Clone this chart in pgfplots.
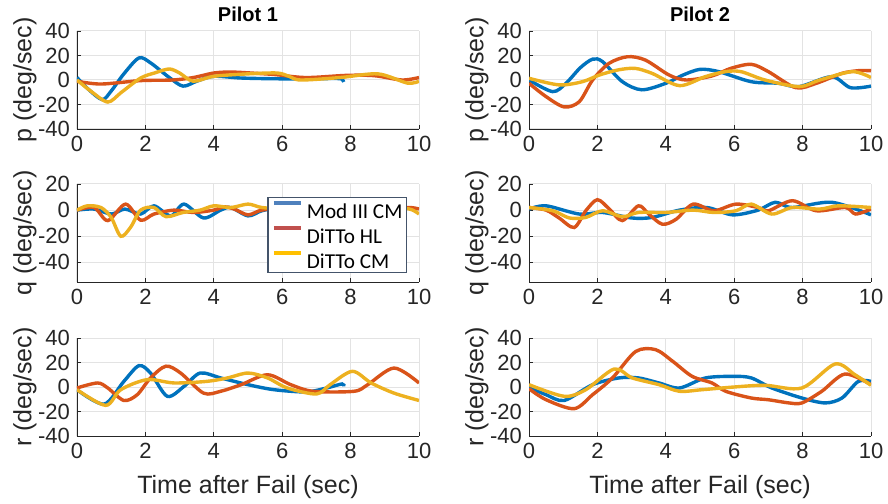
\documentclass[border=0pt]{standalone}
\usepackage{fontspec}
\setmainfont{Liberation Sans}
\newfontfamily\legfont{Carlito}
\usepackage{pgfplots}
\pgfplotsset{compat=1.18}

\definecolor{mblue}{rgb}{0,0.447,0.741}
\definecolor{mred}{rgb}{0.85,0.325,0.098}
\definecolor{myel}{rgb}{0.929,0.694,0.125}
\definecolor{lblue}{HTML}{4F81BD}
\definecolor{lred}{HTML}{C0504D}
\definecolor{lyel}{HTML}{FFC000}
\definecolor{axgray}{HTML}{262626}
\definecolor{gridgray}{HTML}{E3E3E3}
\definecolor{legbox}{HTML}{44546A}

% one MATLAB-like panel, 1px of the original = 0.5pt
\pgfplotsset{
  panel/.style={
    scale only axis, width=171pt, height=49pt,
    xmin=0, xmax=10, xtick={0,2,4,6,8,10},
    axis x line*=bottom, axis y line*=left,
    axis line style={axgray, line width=0.4pt, -},
    tick align=inside, major tick length=2pt,
    tick style={axgray, line width=0.4pt},
    grid=major, major grid style={gridgray, line width=0.5pt},
    ticklabel style={font=\fontsize{11}{13}\selectfont, text=axgray},
    /pgf/number format/assume math mode=true,
    label style={font=\fontsize{12.5}{15}\selectfont, text=axgray},
    ylabel style={at={(axis description cs:-0.152,0.5)}, anchor=center},
    xlabel style={at={(axis description cs:0.5,0)}, anchor=base, yshift=-28.5pt},
    every axis title/.style={at={(axis description cs:0.5,1)}, anchor=base,
                 yshift=4.5pt, inner sep=0pt,
                 font=\bfseries\fontsize{10}{12}\selectfont},
    every axis plot/.append style={line width=1.7pt, smooth, forget plot},
  },
  pq/.style={ymin=-40, ymax=40, ytick={-40,-20,0,20,40}},
  qq/.style={ymin=-55, ymax=20, ytick={-40,-20,0,20}},
}

\begin{document}
\begin{tikzpicture}
\useasboundingbox (0,0) rectangle (444pt,251.5pt);

% ---------- Pilot 1, p ----------
\begin{axis}[panel, pq, at={(38.5pt,187pt)}, anchor=south west,
  title={Pilot 1}, ylabel={p (deg/sec)}]
\addplot[mblue] coordinates {(0,2)(0.35,-8)(0.74,-16)(1.0,-9)(1.37,5)(1.81,18)(2.15,14)(2.7,2)(3.1,-5)(3.5,-1)(4,3)(4.8,1.6)(5.8,1)(6.7,1)(7.6,1.2)(7.75,0.5)(7.8,-1.6)};
\addplot[mred] coordinates {(0,-1)(0.7,-3.3)(1.86,-0.5)(2.8,0)(3.4,2)(4,5.7)(4.5,6.5)(5.2,5.5)(5.8,4.4)(6.7,2)(7.9,3.8)(8.7,3.5)(9.5,0)(10,2)};
\addplot[myel] coordinates {(0,0)(0.4,-9)(0.9,-18)(1.3,-10)(1.86,1.6)(2.3,6)(2.7,9)(3.0,5.7)(3.4,-1)(4,3)(5,5)(5.85,5.7)(6.2,3)(6.54,0)(7.7,2)(8.8,5)(9.66,-2.5)(10,-1)};
\end{axis}

% ---------- Pilot 2, p ----------
\begin{axis}[panel, pq, at={(264.5pt,187pt)}, anchor=south west,
  title={Pilot 2}, ylabel={p (deg/sec)}]
\addplot[mblue] coordinates {(0,0)(0.69,-9.5)(1.08,-2.7)(1.5,10)(1.86,17)(2.15,15)(2.73,-1.4)(3.3,-8)(4,-2.7)(4.5,4)(5,8.7)(5.55,6.8)(6.5,-1.4)(7.3,-2.7)(7.9,-5.4)(8.85,2.7)(9.4,-6.3)(10,-5)};
\addplot[mred] coordinates {(0,-2.7)(0.5,-13.6)(1.03,-22)(1.47,-17.7)(1.86,0)(2.34,13.6)(2.88,19)(3.4,16.3)(4.1,4)(4.6,0)(5.35,3.3)(5.9,9.5)(6.5,12.8)(7.0,6.8)(7.8,-6.3)(8.4,-2.7)(9.15,5.4)(9.63,7.6)(10,7.6)};
\addplot[myel] coordinates {(0,1.4)(0.88,-4)(1.56,-1.4)(2.05,4)(2.6,8.2)(3.1,9.5)(3.6,5.4)(4.4,-4.6)(5.15,2.7)(5.74,6.8)(6.2,6.8)(6.9,0)(7.9,-5.4)(8.5,0)(9.45,6.8)(10,2)};
\end{axis}

% ---------- Pilot 1, q ----------
\begin{axis}[panel, qq, at={(38.5pt,110.5pt)}, anchor=south west,
  ylabel={q (deg/sec)},
  legend style={at={(rel axis cs:0.965,0.867)}, anchor=north east,
    draw=legbox, line width=0.6pt, fill=white, text=black,
    font=\legfont\fontsize{10.6}{12}\selectfont,
    nodes={inner sep=0pt, text height=10.5pt, text depth=2pt},
    inner xsep=2pt, inner ysep=0pt, row sep=0pt, column sep=2pt},
  legend cell align=left,
  legend image code/.code={\draw[#1] (0pt,3.4pt) -- (13.5pt,3.4pt);}]
\addplot[mblue] coordinates {(0,0)(0.5,0.8)(1.0,-3)(1.4,0.8)(1.86,-3)(2.25,3.3)(2.74,-4.4)(3.13,4.6)(3.7,-6)(4.2,0)(4.5,2)(5,-4.4)(5.4,-0.5)(5.8,1)(6.5,-1)(7.2,1)(7.8,0)};
\addplot[mred] coordinates {(0,0)(0.5,2)(0.9,-8)(1.42,4.6)(1.86,-7.7)(2.25,-3)(2.84,0)(3.4,-1.8)(4.0,0)(4.3,2.5)(4.6,0.8)(5,-3.6)(5.4,0)(6,1)(7,-1)(8,1)(9,0)(9.7,2)(10,0.8)};
\addplot[myel] coordinates {(0,0)(0.3,3.3)(0.7,2)(1.0,-5.6)(1.28,-20)(1.57,-13)(1.86,0)(2.25,2)(2.6,-5)(3.1,-1.8)(3.6,0)(4.0,3.3)(4.5,2)(5,4.6)(5.4,2)(6,1)(7,0)(8,1)(9,1)(9.7,1)(10,-3)};
\addlegendimage{lblue, line width=2pt}
\addlegendentry{Mod III CM}
\addlegendimage{lred, line width=2pt}
\addlegendentry{DiTTo HL}
\addlegendimage{lyel, line width=2pt}
\addlegendentry{DiTTo CM}
\end{axis}

% ---------- Pilot 2, q ----------
\begin{axis}[panel, qq, at={(264.5pt,110.5pt)}, anchor=south west,
  ylabel={q (deg/sec)}]
\addplot[mblue] coordinates {(0,0.8)(0.5,3.3)(1.47,-3)(2.15,-1.8)(3.0,-6)(3.6,-5.6)(4.4,0)(5.2,2)(5.95,-3.6)(6.7,0)(7.2,6)(7.7,2)(8.85,6)(10,-3.6)};
\addplot[mred] coordinates {(0,2)(0.5,0)(0.88,-6)(1.32,-13.3)(1.66,-0.5)(2.0,8)(2.35,0.8)(2.73,-8)(3.2,3.3)(3.5,-3)(3.9,-10.8)(4.3,-7)(4.8,4.6)(5.4,-0.5)(6.05,4.6)(6.7,2)(7.0,-0.5)(7.7,7.2)(8.4,-0.5)(9.25,2)(9.55,-3)(10,0.8)};
\addplot[myel] coordinates {(0,2)(0.7,-0.5)(1.18,-6)(1.66,-5.6)(2.15,-0.5)(2.73,-5)(3.2,-1.8)(4.0,-1.8)(4.8,0)(5.4,-1.8)(6.05,-0.5)(6.5,4.6)(7.1,-3)(7.7,2)(8.5,0.8)(9.05,3.3)(10,2)};
\end{axis}

% ---------- Pilot 1, r ----------
\begin{axis}[panel, pq, at={(38.5pt,33.5pt)}, anchor=south west,
  ylabel={r (deg/sec)}, xlabel={Time after Fail (sec)}]
\addplot[mblue] coordinates {(0,-2.2)(0.79,-14)(1.37,4.6)(1.81,17.4)(2.15,11.4)(2.64,-7.6)(3.13,0.5)(3.6,11.4)(4.2,7.4)(5,1.9)(5.76,-2.2)(6.7,-4)(7.3,-0.8)(7.75,2.5)(7.8,0.5)};
\addplot[mred] coordinates {(0,-0.8)(0.6,3.3)(0.9,-0.8)(1.37,-11)(1.76,-6.3)(2.15,7.4)(2.6,17)(3.03,11.4)(3.7,-5)(4.2,-3.5)(4.8,1.9)(5.57,10)(6.25,1.9)(6.9,-3.5)(8.1,-3.5)(8.5,1.9)(9.27,15.5)(10,3.3)};
\addplot[myel] coordinates {(0,-2.2)(0.84,-15)(1.28,-2.2)(2.05,6)(2.84,3.3)(3.8,4.6)(4.4,7.4)(5.0,11.4)(5.57,7.4)(6.15,-0.8)(7.0,-5.7)(7.4,1.9)(8.05,12.8)(8.6,3.3)(9.27,-5)(10,-11)};
\end{axis}

% ---------- Pilot 2, r ----------
\begin{axis}[panel, pq, at={(264.5pt,33.5pt)}, anchor=south west,
  ylabel={r (deg/sec)}, xlabel={Time after Fail (sec)}]
\addplot[mblue] coordinates {(0,-0.3)(0.5,-6.3)(1.03,-11)(1.86,1.9)(2.63,7.4)(3.2,7.4)(3.8,3.3)(4.4,-0.8)(5.16,7.4)(6.0,8.7)(6.5,7.4)(7.1,-0.8)(7.98,-9)(8.66,-13)(9.15,-9)(9.63,4.6)(10,4.6)};
\addplot[mred] coordinates {(0,-1.4)(0.5,-10.4)(1.32,-17.7)(1.86,-6.3)(2.44,7.4)(3.12,29)(3.7,30.5)(4.2,21)(4.77,8.7)(5.35,3.3)(5.75,-3.5)(6.5,-9)(7.0,-10.4)(7.6,-13)(7.98,-13)(8.56,-3.5)(9.24,10.6)(10,1.9)};
\addplot[myel] coordinates {(0,1.9)(1.03,-7.6)(1.66,-2.2)(2.49,14.7)(3.02,7.4)(3.8,1.9)(4.4,-3.5)(5.06,-2.2)(6.0,0)(6.9,1.4)(7.98,-0.8)(8.95,18.8)(9.53,10)(10,1.4)};
\end{axis}
\end{tikzpicture}
\end{document}
